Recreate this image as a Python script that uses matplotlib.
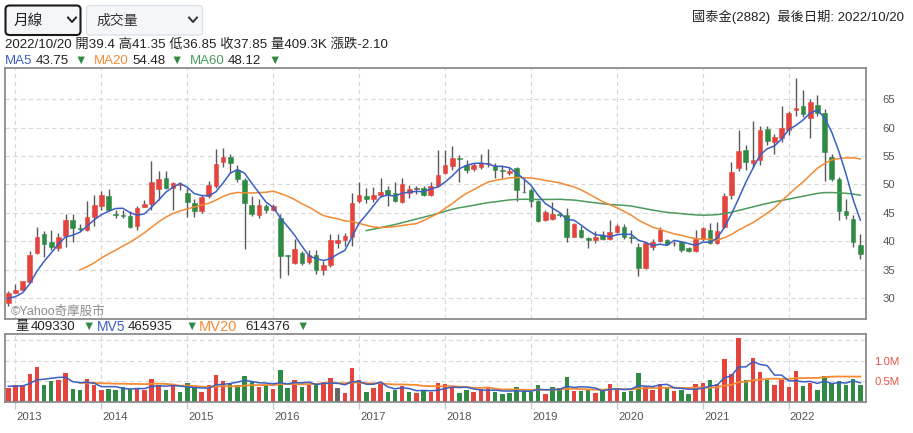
import numpy as np
import pandas as pd
import matplotlib
matplotlib.use("Agg")
import matplotlib.pyplot as plt
from matplotlib.patches import FancyBboxPatch
from matplotlib.lines import Line2D
from matplotlib.transforms import IdentityTransform, blended_transform_factory

plt.rcParams['font.family'] = ['Liberation Sans', 'Noto Sans CJK TC', 'DejaVu Sans']

# ---------------- data ----------------
stock_name = "國泰金(2882)"
last_date = "2022/10/20"
first_month = "2012-11"

# months before the first visible candle (only used for moving averages)
pre_close = [33.0, 32.5, 31.5, 31.2, 30.9, 30.2, 29.5, 29.8, 29.75]
pre_volume = [450000, 500000, 450000, 400000, 420000, 380000, 400000, 380000, 400000]

opens = [29.25, 31.0, 31.55, 32.85, 37.95, 41.25, 39.95, 38.8, 40.95, 43.85,
         42.4, 42.0, 44.3, 46.3, 48.05, 44.65, 44.55, 44.55, 42.7, 46.1,
         46.65, 49.2, 51.1, 49.4, 49.9, 48.5, 46.75, 45.3, 47.9, 49.65,
         54.0, 54.75, 52.55, 50.8, 46.4, 44.6, 46.2, 45.6, 44.15, 37.6,
         36.3, 38.05, 36.45, 37.7, 35.05, 35.85, 39.8, 40.25, 40.85, 47.05,
         47.9, 47.45, 48.1, 49.0, 48.5, 46.95, 48.45, 49.25, 49.35, 48.15,
         49.8, 52.0, 53.3, 54.55, 53.45, 52.7, 53.1, 53.65, 53.25, 52.45,
         52.1, 52.85, 48.7, 49.1, 47.15, 43.75, 43.95, 44.75, 44.7, 40.85,
         41.95, 40.6, 40.2, 41.2, 40.4, 41.7, 42.6, 40.7, 39.1, 35.3,
         39.1, 40.1, 40.2, 39.65, 39.9, 38.9, 38.35, 40.4, 42.05, 39.7,
         42.5, 48.2, 52.9, 56.1, 53.75, 54.35, 59.8, 57.4, 58.15, 59.6,
         63.0, 63.7, 61.65, 64.0, 62.55, 54.9, 50.95, 45.4, 43.9, 39.4]

highs = [31.3, 32.55, 33.1, 38.35, 42.6, 41.8, 42.0, 41.55, 44.9, 44.85,
         43.0, 47.05, 48.2, 48.9, 49.2, 45.6, 45.5, 45.3, 46.2, 47.2,
         54.1, 52.3, 52.4, 50.4, 50.5, 49.4, 47.5, 48.2, 50.7, 56.3,
         56.45, 55.35, 53.4, 51.1, 48.0, 47.5, 46.65, 46.6, 44.75, 37.7,
         40.4, 38.35, 38.5, 38.5, 36.6, 41.4, 41.25, 41.55, 48.5, 50.4,
         49.4, 49.5, 51.1, 49.65, 50.5, 51.1, 49.95, 49.8, 49.7, 50.5,
         56.0, 56.0, 56.7, 55.2, 54.3, 53.85, 55.35, 56.2, 53.7, 53.45,
         53.1, 53.0, 51.1, 49.4, 47.2, 45.6, 46.9, 45.15, 45.8, 43.3,
         42.7, 40.7, 41.8, 41.8, 43.75, 43.1, 43.0, 42.1, 39.8, 39.9,
         40.4, 42.6, 40.4, 40.1, 40.1, 39.1, 42.0, 42.6, 43.2, 43.5,
         48.5, 53.9, 59.6, 56.85, 61.1, 60.2, 60.2, 58.85, 63.7, 62.85,
         68.6, 66.6, 65.05, 65.65, 63.3, 55.3, 51.35, 47.5, 44.7, 41.35]

lows = [28.7, 30.9, 31.4, 32.8, 37.8, 37.2, 38.5, 38.25, 39.1, 39.9,
        41.8, 41.8, 42.7, 45.6, 45.3, 44.2, 44.2, 42.4, 42.1, 46.0,
        45.6, 47.35, 49.2, 45.6, 49.0, 44.3, 44.3, 45.0, 47.6, 49.4,
        53.0, 52.0, 50.5, 38.75, 44.4, 44.2, 45.0, 45.3, 33.6, 34.2,
        36.0, 35.8, 36.0, 34.3, 34.2, 35.5, 38.9, 39.2, 39.2, 46.8,
        46.75, 47.0, 47.8, 46.3, 46.9, 46.7, 47.6, 48.3, 47.9, 47.9,
        49.5, 51.8, 52.5, 50.5, 52.0, 52.3, 52.7, 53.0, 51.1, 51.1,
        51.6, 47.05, 48.5, 46.05, 43.4, 43.6, 43.8, 44.3, 39.9, 40.7,
        40.6, 38.9, 39.8, 40.2, 40.2, 41.5, 40.5, 39.8, 33.9, 35.2,
        38.5, 39.9, 39.3, 39.2, 38.2, 38.2, 38.2, 40.1, 39.5, 39.6,
        42.3, 47.5, 52.4, 52.5, 52.9, 53.5, 57.0, 55.4, 57.5, 58.7,
        62.0, 61.9, 58.15, 62.0, 50.65, 50.6, 43.8, 44.0, 39.1, 36.85]

closes = [31.0, 31.5, 33.0, 37.6, 40.85, 39.6, 38.95, 40.85, 43.7, 42.4,
          42.2, 44.3, 46.4, 48.15, 45.5, 44.6, 44.5, 42.6, 45.85, 46.65,
          50.4, 50.9, 49.4, 50.2, 50.1, 46.95, 45.3, 47.8, 49.95, 53.6,
          54.75, 53.85, 50.95, 46.75, 44.85, 46.4, 45.6, 46.3, 37.5, 37.4,
          38.65, 36.15, 37.7, 35.0, 35.85, 40.2, 40.2, 40.9, 46.75, 48.15,
          47.45, 48.15, 48.7, 48.3, 47.15, 50.05, 49.15, 49.25, 48.1, 49.65,
          51.7, 53.45, 54.6, 54.45, 52.55, 53.45, 53.7, 53.75, 52.55, 52.4,
          52.35, 48.95, 48.6, 47.05, 43.55, 45.2, 44.9, 44.7, 40.85, 43.1,
          40.85, 40.2, 40.85, 40.4, 41.7, 42.8, 40.7, 40.65, 35.3, 39.8,
          39.9, 42.0, 39.6, 39.7, 38.5, 38.4, 40.4, 42.4, 39.7, 41.9,
          47.95, 52.2, 55.9, 53.9, 54.3, 59.6, 57.7, 58.3, 60.0, 62.55,
          63.35, 62.35, 64.5, 62.55, 55.7, 50.9, 45.4, 44.65, 39.95, 37.85]

volumes = [340000, 400000, 420000, 680000, 850000, 410000, 510000, 530000, 700000, 310000,
           290000, 560000, 410000, 290000, 310000, 290000, 360000, 320000, 350000, 300000,
           560000, 420000, 290000, 420000, 240000, 460000, 340000, 240000, 400000, 650000,
           510000, 440000, 400000, 630000, 500000, 360000, 400000, 310000, 770000, 340000,
           535000, 360000, 410000, 460000, 480000, 580000, 340000, 220000, 820000, 530000,
           240000, 340000, 480000, 240000, 290000, 380000, 240000, 220000, 270000, 240000,
           460000, 440000, 390000, 220000, 290000, 240000, 310000, 360000, 240000, 190000,
           220000, 360000, 290000, 240000, 410000, 190000, 360000, 340000, 600000, 270000,
           270000, 320000, 220000, 270000, 440000, 340000, 240000, 270000, 700000, 360000,
           300000, 440000, 340000, 270000, 300000, 190000, 440000, 460000, 530000, 440000,
           1050000, 680000, 1550000, 530000, 1070000, 720000, 530000, 410000, 530000, 360000,
           750000, 390000, 460000, 290000, 637845, 450000, 520000, 400000, 550345, 409330]

# ---------------- derived ----------------
n = len(closes)
x = np.arange(n)
o = np.array(opens); h = np.array(highs); l = np.array(lows); c = np.array(closes)
v = np.array(volumes, dtype=float)
npre = len(pre_close)

full_c = pd.Series(pre_close + closes, dtype=float)
full_v = pd.Series(pre_volume + volumes, dtype=float)
ma5 = full_c.rolling(5).mean().values[npre:]
ma20 = full_c.rolling(20).mean().values[npre:]
ma60 = full_c.rolling(60).mean().values[npre:]
mv5 = full_v.rolling(5).mean().values[npre:]
mv20 = full_v.rolling(20).mean().values[npre:]

months = pd.period_range(first_month, periods=n, freq="M")
year_pos = [i for i, m in enumerate(months) if m.month == 12]
year_lab = [str(months[i].year + 1) for i in year_pos]

RED = '#e5433d'
GREEN = '#2f8a43'
GREY = '#555555'
BLUE = '#3a5fc4'
ORANGE = '#f58a33'
MGREEN = '#4c9a5c'
GRID = '#d8d8d8'
SPINE = '#8c8c8c'

W, H = 913, 433
fig = plt.figure(figsize=(W / 100, H / 100), dpi=100)
fig.patch.set_facecolor('white')

def ftxt(px, py, s, **kw):
    kw.setdefault('va', 'center')
    kw.setdefault('ha', 'left')
    fig.text(px / W, 1 - py / H, s, **kw)

# ---------------- price panel ----------------
ax = fig.add_axes([5 / W, 1 - 319 / H, 861 / W, 251 / H])
ax.set_xlim(-0.46, 119.79)
ax.set_ylim(26.4, 70.44)
price_ticks = list(range(30, 70, 5))
for yv in price_ticks:
    ax.axhline(yv, color=GRID, lw=0.8, ls=(0, (4, 3)), zorder=0)
for xp in year_pos:
    ax.axvline(xp, color=GRID, lw=0.8, ls=(0, (4, 3)), zorder=0)

doji = np.abs(c - o) < 0.03
up = c > o
body_col = np.where(doji, GREY, np.where(up, RED, GREEN))
ax.vlines(x, l, h, color='#595959', lw=1.0, zorder=2)
ax.bar(x, np.maximum(np.abs(c - o), 0.15), bottom=np.minimum(o, c), width=0.64,
       color=body_col, edgecolor=body_col, lw=0.4, zorder=3)

ax.plot(x, ma60, color=MGREEN, lw=1.1, zorder=4)
ax.plot(x, ma20, color=ORANGE, lw=1.1, zorder=4)
ax.plot(x, ma5, color=BLUE, lw=1.1, zorder=5)

ax.yaxis.tick_right()
ax.set_yticks(price_ticks)
ax.tick_params(axis='y', length=0, pad=12, labelsize=8.2, labelcolor='#555555')
ax.set_xticks(year_pos)
ax.tick_params(axis='x', length=0, labelbottom=False)
for sp in ax.spines.values():
    sp.set_color(SPINE); sp.set_linewidth(1.3)
ax.text(11, H - 312, "©Yahoo奇摩股市", transform=IdentityTransform(), fontsize=9,
        color='#8c8c8c', va='center', ha='left', zorder=6)

# ---------------- volume panel ----------------
axv = fig.add_axes([5 / W, 1 - 402 / H, 861 / W, 68 / H])
axv.set_xlim(-0.46, 119.79)
axv.set_ylim(0, 1.646e6)
for yv in [0.5e6, 1.0e6, 1.5e6]:
    axv.axhline(yv, color=GRID, lw=0.8, ls=(0, (4, 3)), zorder=0)
for xp in year_pos:
    axv.axvline(xp, color=GRID, lw=0.8, ls=(0, (4, 3)), zorder=0)
prev = np.concatenate([[pre_close[-1]], c[:-1]])
vcol = np.where(np.abs(c - prev) < 1e-9, '#666666', np.where(c > prev, RED, GREEN))
axv.bar(x, v, width=0.62, color=vcol, zorder=2)
axv.plot(x, mv20, color=ORANGE, lw=1.3, zorder=3)
axv.plot(x, mv5, color=BLUE, lw=1.1, zorder=4)
axv.yaxis.tick_right()
axv.set_yticks([0.5e6, 1.0e6])
axv.set_yticklabels(['0.5M', '1.0M'])
axv.tick_params(axis='y', length=0, pad=6, labelsize=8.2, labelcolor='#e5534b')
axv.set_xticks(year_pos)
axv.tick_params(axis='x', direction='out', length=5, width=1, color='#c5ccd6', labelbottom=False)
for sp in axv.spines.values():
    sp.set_color(SPINE); sp.set_linewidth(1.3)
tr = blended_transform_factory(axv.transData, axv.transAxes)
for xp, lab in zip(year_pos, year_lab):
    axv.text(xp + 0.15, -0.22, lab, transform=tr, ha='left', va='center',
             fontsize=8.2, color='#555555', clip_on=False)

# ---------------- header ----------------
TI = IdentityTransform()
b1 = FancyBboxPatch((5.5, H - 35), 75, 29.5, boxstyle="round,pad=0,rounding_size=4",
                    transform=TI, fc='#f4f6f9', ec='#1a1a1a', lw=1.5)
b2 = FancyBboxPatch((86.5, H - 35), 116, 29.5, boxstyle="round,pad=0,rounding_size=3",
                    transform=TI, fc='#f4f6f9', ec='#dde2e8', lw=1.0)
fig.add_artist(b1); fig.add_artist(b2)
fig.add_artist(Line2D([68, 72, 76], [H - 17.5, H - 22, H - 17.5], transform=TI, color='#222222', lw=1.4))
fig.add_artist(Line2D([189, 193, 197], [H - 17.5, H - 22, H - 17.5], transform=TI, color='#333333', lw=1.4))
ftxt(14, 21, "月線", fontsize=10.5, color='#222222')
ftxt(96, 21, "成交量", fontsize=10, color='#333333')
ftxt(904, 17, f"{stock_name}  最後日期: {last_date}", ha='right', fontsize=9.5, color='#222222')

chg = c[-1] - c[-2]
line1 = (f"{last_date} 開{o[-1]:g} 高{h[-1]:g} 低{l[-1]:g} 收{c[-1]:g} "
         f"量{v[-1] / 1000:.1f}K 漲跌{chg:.2f}")
ftxt(5, 45, line1, fontsize=9.6, color='#222222')

def arrow(cur, prv):
    return ("▼", GREEN) if cur < prv else ("▲", RED)

ma_items = [("MA5", ma5, BLUE, 5, 36, 74),
            ("MA20", ma20, ORANGE, 94, 132, 170),
            ("MA60", ma60, MGREEN, 190, 228, 268)]
for name, arr, col, x0, x1, x2 in ma_items:
    ftxt(x0, 61, name, fontsize=9.5, color=col)
    ftxt(x1, 61, f"{arr[-1]:.2f}", fontsize=9.5, color='#222222')
    s, ac = arrow(arr[-1], arr[-2])
    ftxt(x2, 61, s, fontsize=9, color=ac)

ftxt(15, 327, "量", fontsize=9.5, color='#222222')
ftxt(31, 327, f"{int(v[-1])}", fontsize=9.6, color='#222222')
s, ac = arrow(v[-1], v[-2]); ftxt(82, 327, s, fontsize=9, color=ac)
ftxt(97, 327, "MV5", fontsize=10, color=BLUE)
ftxt(128, 327, f"{int(round(mv5[-1]))}", fontsize=9.6, color='#222222')
s, ac = arrow(mv5[-1], mv5[-2]); ftxt(185, 327, s, fontsize=9, color=ac)
ftxt(199, 327, "MV20", fontsize=10.5, color=ORANGE)
ftxt(245, 327, f"{int(round(mv20[-1]))}", fontsize=9.6, color='#222222')
s, ac = arrow(mv20[-1], mv20[-2]); ftxt(296, 327, s, fontsize=9, color=ac)

fig.savefig("out.png", dpi=100)
